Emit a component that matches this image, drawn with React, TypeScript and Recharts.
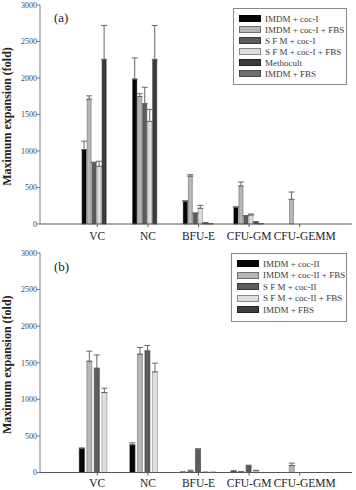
import React from "react";
import {
  BarChart,
  Bar,
  XAxis,
  YAxis,
  ErrorBar,
  Legend,
} from "recharts";

// Cell categories on the horizontal axis
const categories = ["VC", "NC", "BFU-E", "CFU-GM", "CFU-GEMM"];
const yTicks = [0, 500, 1000, 1500, 2000, 2500, 3000];

// Panel (a): co-culture I, mean expansion and upper SD
const imdmCocI = [1020, 1985, 311, 228, 0];
const imdmCocIErr = [115, 290, 8, 8, 0];
const imdmCocIFbs = [1710, 1745, 655, 520, 338];
const imdmCocIFbsErr = [45, 40, 20, 55, 100];
const sfmCocI = [842, 1648, 146, 110, 0];
const sfmCocIErr = [5, 225, 6, 6, 0];
const sfmCocIFbs = [790, 1405, 215, 123, 0];
const sfmCocIFbsErr = [70, 165, 40, 14, 0];
const methocult = [2255, 2255, 18, 30, 0];
const methocultErr = [465, 465, 0, 0, 0];
const imdmFbsA = [0, 0, 4, 4, 0];
const imdmFbsAErr = [0, 0, 0, 0, 0];

// Panel (b): co-culture II, mean expansion and upper SD
const imdmCocII = [332, 378, 5, 20, 0];
const imdmCocIIErr = [0, 27, 0, 0, 0];
const imdmCocIIFbs = [1521, 1617, 14, 14, 96];
const imdmCocIIFbsErr = [137, 91, 18, 0, 32];
const sfmCocII = [1425, 1662, 315, 90, 0];
const sfmCocIIErr = [182, 73, 10, 10, 0];
const sfmCocIIFbs = [1093, 1375, 3, 25, 0];
const sfmCocIIFbsErr = [59, 119, 0, 4, 0];
const imdmFbsB = [0, 0, 2, 0, 0];
const imdmFbsBErr = [0, 0, 0, 0, 0];

type Series = {
  key: string;
  name: string;
  values: number[];
  errors: number[];
  fill: string;
  stroke: string;
};

const seriesA: Series[] = [
  { key: "s1", name: "IMDM + coc-I", values: imdmCocI, errors: imdmCocIErr, fill: "#050505", stroke: "#000000" },
  { key: "s2", name: "IMDM + coc-I + FBS", values: imdmCocIFbs, errors: imdmCocIFbsErr, fill: "#b6b6b6", stroke: "#707070" },
  { key: "s3", name: "S F M + coc-I", values: sfmCocI, errors: sfmCocIErr, fill: "#5c5c5c", stroke: "#3a3a3a" },
  { key: "s4", name: "S F M + coc-I + FBS", values: sfmCocIFbs, errors: sfmCocIFbsErr, fill: "#dedede", stroke: "#8a8a8a" },
  { key: "s5", name: "Methocult", values: methocult, errors: methocultErr, fill: "#3c3c3c", stroke: "#222222" },
  { key: "s6", name: "IMDM + FBS", values: imdmFbsA, errors: imdmFbsAErr, fill: "#707070", stroke: "#4a4a4a" },
];

const seriesB: Series[] = [
  { key: "s1", name: "IMDM + coc-II", values: imdmCocII, errors: imdmCocIIErr, fill: "#050505", stroke: "#000000" },
  { key: "s2", name: "IMDM + coc-II + FBS", values: imdmCocIIFbs, errors: imdmCocIIFbsErr, fill: "#b6b6b6", stroke: "#707070" },
  { key: "s3", name: "S F M + coc-II", values: sfmCocII, errors: sfmCocIIErr, fill: "#5c5c5c", stroke: "#3a3a3a" },
  { key: "s4", name: "S F M + coc-II + FBS", values: sfmCocIIFbs, errors: sfmCocIIFbsErr, fill: "#dedede", stroke: "#8a8a8a" },
  { key: "s5", name: "IMDM + FBS", values: imdmFbsB, errors: imdmFbsBErr, fill: "#404040", stroke: "#222222" },
];

const FONT = "'Liberation Serif', 'DejaVu Serif', serif";
const FRAME = "#7a7a7a";

function buildRows(series: Series[]) {
  return categories.map((cat, i) => {
    const row: Record<string, unknown> = { category: cat };
    series.forEach((s) => {
      row[s.key] = s.values[i];
      row[s.key + "Err"] = [0, s.errors[i]];
    });
    return row;
  });
}

// Category label; the long last label is nudged right so it clears its neighbour
function CategoryTick(props: any) {
  const { x, y, payload, index } = props;
  const shift = index === categories.length - 1 ? 5 : 0;
  return (
    <text
      x={x + shift}
      y={y}
      dy="0.71em"
      textAnchor="middle"
      fontSize={11.5}
      fontFamily={FONT}
      fill="#222222"
    >
      {payload.value}
    </text>
  );
}

type PanelProps = {
  tag: string;
  series: Series[];
  top: number;
  xAxisHeight: number;
  tickMargin: number;
  categoryGap: string;
  barGap: number;
  legendLeft: number;
  legendTop: number;
  legendWidth: number;
  rowHeight: number;
  tagTop: number;
};

function LegendBox({ series, width, rowHeight }: { series: Series[]; width: number; rowHeight: number }) {
  return (
    <div
      style={{
        width,
        border: "1px solid #8a8a8a",
        background: "#ffffff",
        padding: "4px 0 5px 5px",
        boxSizing: "border-box",
        fontFamily: FONT,
      }}
    >
      {series.map((s) => (
        <div key={s.key} style={{ display: "flex", alignItems: "center", height: rowHeight }}>
          <span
            style={{
              display: "inline-block",
              width: 20,
              height: 5,
              background: s.fill,
              border: `1px solid ${s.stroke}`,
              marginRight: 4,
            }}
          />
          <span style={{ fontSize: 9, color: "#3a3a3a", whiteSpace: "nowrap" }}>{s.name}</span>
        </div>
      ))}
    </div>
  );
}

function Panel(p: PanelProps) {
  const rows = buildRows(p.series);
  return (
    <div style={{ position: "relative", width: 356, height: 245 }}>
      <BarChart
        width={356}
        height={245}
        data={rows}
        margin={{ top: p.top, right: 4, left: 0, bottom: 0 }}
        barCategoryGap={p.categoryGap}
        barGap={p.barGap}
      >
        <XAxis
          dataKey="category"
          height={p.xAxisHeight}
          padding={{ left: 32, right: 27 }}
          tickSize={3}
          tickMargin={p.tickMargin}
          axisLine={{ stroke: "#555555" }}
          tickLine={{ stroke: "#555555" }}
          tick={<CategoryTick />}
          interval={0}
        />
        <XAxis
          xAxisId="frame"
          dataKey="category"
          orientation="top"
          height={0}
          tick={false}
          tickLine={false}
          axisLine={{ stroke: FRAME }}
        />
        <YAxis
          domain={[0, 3000]}
          ticks={yTicks}
          width={40}
          tickSize={3}
          tickMargin={0}
          interval={0}
          axisLine={{ stroke: FRAME }}
          tickLine={{ stroke: FRAME }}
          tick={{ fontSize: 8, fontFamily: FONT, fill: "#444444" }}
          label={{
            content: (props: any) => {
              const vb = props.viewBox || { x: 0, y: p.top, width: 40, height: 219 };
              const cx = 7;
              const cy = vb.y + vb.height / 2 + 2;
              return (
                <text
                  x={cx}
                  y={cy}
                  transform={`rotate(-90 ${cx} ${cy})`}
                  textAnchor="middle"
                  dominantBaseline="central"
                  fontFamily={FONT}
                  fontWeight="bold"
                  fontSize={12}
                  fill="#222222"
                >
                  Maximum expansion (fold)
                </text>
              );
            },
          }}
        />
        <YAxis
          yAxisId="frame"
          orientation="right"
          width={0}
          domain={[0, 3000]}
          tick={false}
          tickLine={false}
          axisLine={{ stroke: FRAME }}
        />
        <Legend
          layout="vertical"
          align="center"
          verticalAlign="middle"
          wrapperStyle={{ position: "absolute", left: p.legendLeft, top: p.legendTop, width: p.legendWidth }}
          content={() => <LegendBox series={p.series} width={p.legendWidth} rowHeight={p.rowHeight} />}
        />
        {p.series.map((s) => (
          <Bar
            key={s.key}
            dataKey={s.key}
            name={s.name}
            fill={s.fill}
            stroke={s.stroke}
            strokeWidth={0.6}
            isAnimationActive={false}
          >
            <ErrorBar dataKey={s.key + "Err"} width={3} stroke="#666666" strokeWidth={1} direction="y" />
          </Bar>
        ))}
      </BarChart>
      <div
        style={{
          position: "absolute",
          left: 54,
          top: p.tagTop,
          fontFamily: FONT,
          fontSize: 13,
          color: "#222222",
        }}
      >
        {p.tag}
      </div>
    </div>
  );
}

export default function App() {
  return (
    <div style={{ position: "absolute", left: 0, top: 0, width: 356, height: 490, background: "#ffffff" }}>
      <Panel
        tag="(a)"
        series={seriesA}
        top={5}
        xAxisHeight={21}
        tickMargin={5}
        categoryGap="20%"
        barGap={1}
        legendLeft={233}
        legendTop={8}
        legendWidth={114}
        rowHeight={11}
        tagTop={10}
      />
      <Panel
        tag="(b)"
        series={seriesB}
        top={8}
        xAxisHeight={17.5}
        tickMargin={3}
        categoryGap="14.5%"
        barGap={2.5}
        legendLeft={231}
        legendTop={8}
        legendWidth={116}
        rowHeight={11.5}
        tagTop={14}
      />
    </div>
  );
}
